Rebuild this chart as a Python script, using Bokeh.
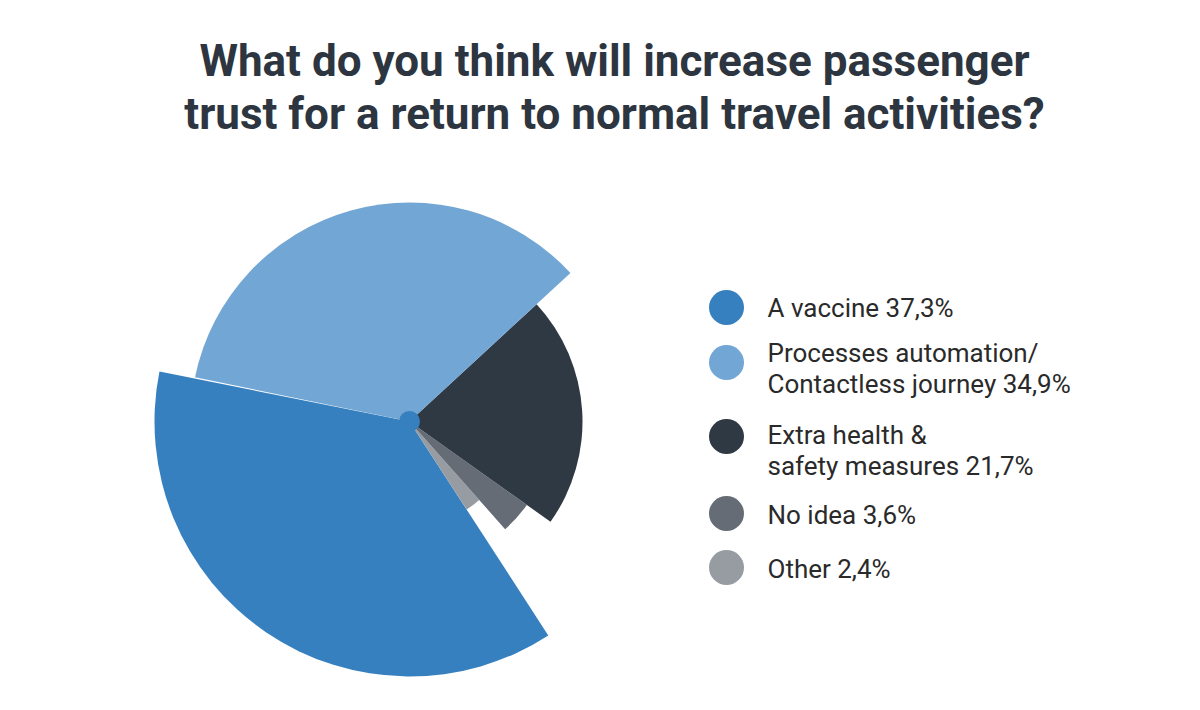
import math

from bokeh.core.properties import value
from bokeh.embed import file_html
from bokeh.models import ColumnDataSource, Range1d
from bokeh.plotting import figure
from bokeh.resources import INLINE

# Survey answers
categories = [
    "A vaccine",
    "Processes automation/\nContactless journey",
    "Extra health &\nsafety measures",
    "No idea",
    "Other",
]
shares = [37.3, 34.9, 21.7, 3.6, 2.4]

title_lines = [
    "What do you think will increase passenger",
    "trust for a return to normal travel activities?",
]

# Styling per answer
colors = ["#3680BF", "#72A6D4", "#2F3944", "#656C75", "#979BA2"]
radii = [255, 219, 173, 144, 105]          # outer radius of each sector, px
sweep_order = [0, 4, 3, 2, 1]               # counter-clockwise drawing order
start_deg = 168.7                           # where the first sector begins

W, H = 1200, 710
cx, cy = 409, H - 421                       # pie centre (y measured upward)

p = figure(
    width=W, height=H,
    x_range=Range1d(0, W), y_range=Range1d(0, H),
    output_backend="svg", toolbar_location=None,
    min_border=0, outline_line_color=None,
)
p.axis.visible = False
p.grid.visible = False
p.background_fill_color = "white"
p.border_fill_color = "white"

# Sectors: angle proportional to share, each with its own radius
xs, ys, rs, a0s, a1s, cs = [], [], [], [], [], []
angle = start_deg
for i in sweep_order:
    span = shares[i] * 3.6
    xs.append(cx)
    ys.append(cy)
    rs.append(radii[i])
    a0s.append(math.radians(angle))
    a1s.append(math.radians(angle + span))
    cs.append(colors[i])
    angle += span

wedges = ColumnDataSource(dict(x=xs, y=ys, r=rs, a0=a0s, a1=a1s, c=cs))
p.wedge(x="x", y="y", radius="r", start_angle="a0", end_angle="a1",
        fill_color="c", line_color=None, source=wedges)

# Hub dot
p.scatter(x=[cx], y=[cy], size=21, marker="circle",
          fill_color=colors[0], line_color=None)

# Title
title_base = [H - 60, H - 113]
p.text(x=[614, 614], y=title_base, text=title_lines,
       text_font=value("Roboto"), text_font_style="bold", text_font_size="44px",
       text_color="#2D3640", text_align="center", text_baseline="alphabetic")

# Legend
def fmt(v):
    return f"{v:.1f}".replace(".", ",") + "%"

dot_x, text_x = 726, 767
row_dot_y = [307, 362, 436, 513, 567]
row_first_base = [307, 352, 434, 514, 568]
line_step = 31.7

lx, ly, lt = [], [], []
for k, (cat, v) in enumerate(zip(categories, shares)):
    lines = cat.split("\n")
    lines[-1] = lines[-1] + " " + fmt(v)
    for j, ln in enumerate(lines):
        lx.append(text_x)
        ly.append(H - (row_first_base[k] + j * line_step))
        lt.append(ln)

p.scatter(x=[dot_x] * len(colors), y=[H - y for y in row_dot_y], size=35,
          marker="circle", fill_color=colors, line_color=None)
p.text(x=lx, y=ly, text=lt, text_font=value("Roboto"),
       text_font_size="26px", text_color="#2A2A2A",
       text_align="left", text_baseline="alphabetic")

open("out.html", "w").write(file_html(p, INLINE))
